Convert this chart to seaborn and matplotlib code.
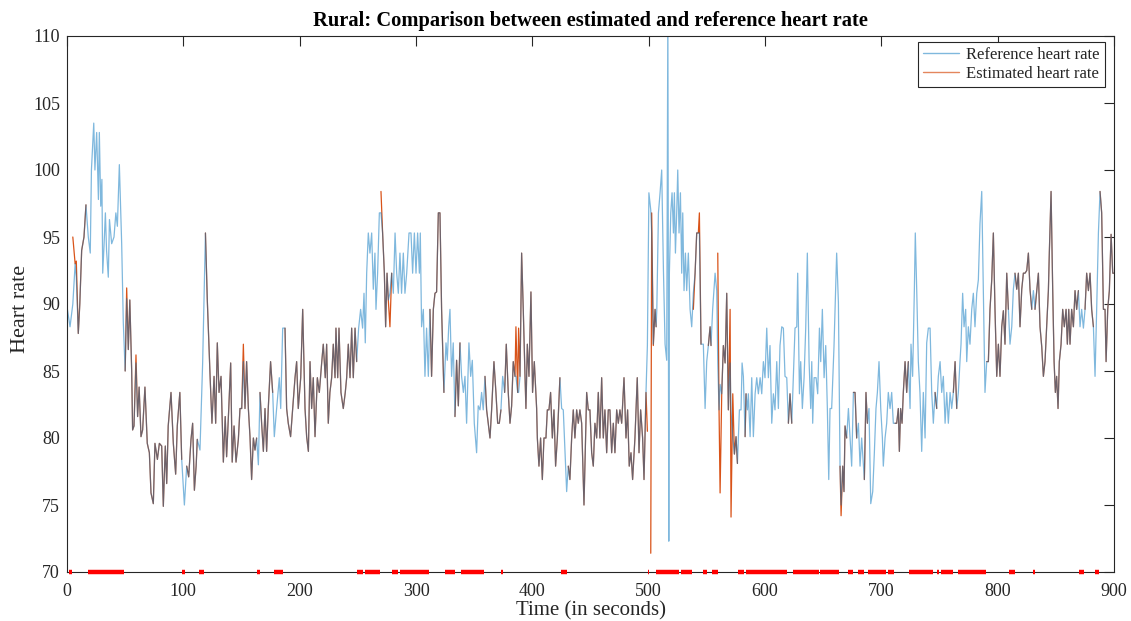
import numpy as np
import pandas as pd
import matplotlib
matplotlib.use("Agg")
import matplotlib.pyplot as plt
from matplotlib.lines import Line2D
import seaborn as sns

# ---------------- data ----------------
ref_t = [0, 2.6, 5, 7, 8, 9.7, 11, 12.6, 14.6, 16.3, 18.3, 20, 21, 23, 24, 25.5, 27, 27.8, 29, 30,
         30.7, 31.8, 33, 34, 35.5, 36.5, 38.4, 40.4, 42, 43.3, 45, 47, 48.4, 50, 51.3, 52.7, 54, 55.6,
         56.4, 57.6, 59.3, 60.7, 62, 63.6, 65, 67, 69, 70.8, 72.2, 74.2, 75.6, 77.7, 79.4, 81.4, 82.8,
         84.5, 85.7, 87, 89.4, 91.4, 93.4, 94.8, 97, 98.6, 100.9, 102.9, 104.6, 106.6, 108, 109.5, 111,
         112, 114.3, 116.6, 119, 120.6, 123, 124.6, 126.4, 127.8, 129.2, 130.7, 132.4, 134.4, 136,
         137.2, 139, 140.7, 142, 143.6, 145.3, 147.3,
         148.7, 150.2, 151.6, 153, 154.4, 155.9, 157.3, 158.7, 160.2, 161.6, 163, 164.5, 165.9, 167.3,
         168.8, 170.2, 171.6, 173, 175, 176.8, 178.2, 180.2, 182.5, 183.7, 185.4, 187.4, 188.8, 190.2,
         192.2, 194, 196, 197.4, 198.8, 200.9, 202.6, 204.6, 206, 207.5, 208.9, 210.3, 211.7, 213.2,
         215.2, 216.9, 219, 220.3, 222, 223.2, 224.6, 226, 227.5, 228.9, 230.4, 231.2, 232.7, 233.8,
         235.5, 237.5, 239.2, 240.4, 241.8, 243.3, 244.7, 246.1, 247.6, 249, 250.7, 252.4, 254.1,
         255.3, 256.4, 257.6, 259, 260.4, 261.9, 263.3, 264.7, 265.6, 267, 268.5, 269.9, 271.3, 272.8,
         273.9, 275.1, 276.2, 277.6, 279.1, 280.5, 282, 283.4, 284.8, 286.2, 287.6, 289.1, 290.5, 292,
         294, 295.7, 297.1, 298.6, 300, 301.4, 302.9,
         303.7, 304.8, 306.3, 307.7, 309.1, 310.6, 312, 313.4, 314.9, 316.3, 317.7, 319.2, 320.6, 322,
         324, 325.8, 326.9, 328.1, 329.2, 330.6, 332, 333.5, 334.9, 336.4, 337.8, 339.2, 340.7, 342.1,
         343.5, 345.5, 347, 348.4, 350.1, 352.1, 353.5, 355, 356.4, 357.8, 359.3, 360.7, 362.1, 363.6,
         365, 367, 368.7, 370.2, 371.6, 373, 374.5, 376.2, 377.6, 379.3, 380.8, 382.2, 383.6, 385.1,
         385.9, 387.4, 388.2, 389.4, 390.8, 392.2, 393.7, 394.5, 395.7, 397.1, 398.8, 400.2, 401.7,
         403.7, 404.3, 405.7, 407.1, 408.6, 410, 411.7, 412.9, 414.3, 415.7, 417.2, 418.6, 420, 421.5,
         423.7, 425.2, 426.6, 428, 429.5, 430.9, 432.3, 433.8, 435.2, 436.6, 438.1, 439.5, 440.9,
         442.4, 444.4, 446.7, 448.1, 449.5, 451, 452.4, 453.8, 455.3, 456.7, 458.1, 459.6, 461, 462.4,
         463.9, 465.3, 466.7, 468.2, 469.6, 471, 472.5, 473.9, 475.3, 476.8, 478.8, 480.5, 481.9,
         483.3, 484.8, 486.2, 488.2, 490.2, 491.7, 493.1, 494.8, 496, 497.7,
         498.9, 500.2, 501.8, 502.6, 504, 505.5, 506.4, 507, 508.4, 509.8, 511.2, 512.7, 514.1, 515.5,
         516.5, 517.3, 517.8, 519, 520.1, 521.3, 522.1, 523, 524.1, 525, 526.1, 527.3, 528.4, 529.3,
         530.4, 531.6, 532.7, 534.1, 535.6, 537, 538.4, 539.9, 541.3, 542.7, 543.6, 545, 547, 548.5,
         549.9, 551.3, 552.8, 553.6, 555, 557.1, 558.5, 559.4, 560.5, 561.4, 562.8, 564.2, 565.7,
         567.1, 568.5, 570, 570.8, 572.3, 573.7, 575.1, 576.3, 578, 579.4, 580.3, 581.4, 582.9, 583.7,
         584.9, 585.7, 587.2, 588.6, 590, 591.5, 592.9, 594.3, 595.8, 597.2, 598.6, 600, 601.5, 602.9,
         604.3, 605.8, 607.2, 608.6, 610.1, 611.5, 612.9, 614.4, 615.8, 617.2, 618.7, 620.1, 621.5,
         623, 624.4, 625.8, 627.3, 628.1, 629.6, 630.7, 632.1, 633.6, 635, 636.4, 637.9, 639.3, 640.2,
         641, 642.2, 643.9, 645.3, 646.8, 647.9, 649.3, 650.8, 652.2, 653.6, 654.8, 655.9,
         657.3, 659.3, 661.6, 663.1, 664.5, 665.4, 666.8, 667.9, 668.8, 670.2, 671.7, 673.1, 674.5,
         676, 677.4, 678.8, 680.3, 681.7, 683.1, 684.6, 685.4, 686.8, 688, 689.4, 690.9, 692.6, 694,
         695.4, 696.6, 698, 699.5, 700.9, 701.7, 703.2, 704.6, 706, 707.5, 708.9, 710.3, 711.8, 713.2,
         714.6, 715.5, 716.6, 717.8, 718.9, 720.4, 721.8, 723.2, 724.7, 725.5, 726.9, 728.4, 729.2,
         730.4, 731.8, 733.2, 734.7, 736.1, 737.6, 739, 740.4, 741.9, 743.3, 744.7, 746.2, 747.6, 749,
         750.5, 751.9, 753.3, 754.8, 756.2, 757.6, 759.1, 760.5, 761.9, 763.4, 764.8, 766.2, 767.6,
         768.5, 769.9, 771.1, 772.5, 773.4, 774.8, 776.2, 777.7, 779.1, 780.5, 782, 783.4, 784.8,
         786.3, 787.7, 789.1, 790.6, 792, 793.4, 794.9, 796.3, 797.7, 799.2, 800.6, 802, 803.5, 804.9,
         806.3, 807.8, 809.2, 810.6, 812.1, 813.5, 814.9, 816.4, 817.8, 819.2, 820.7, 822.1, 823.5,
         825, 826.4, 827.8, 829.3, 830.7, 832.1, 833.6, 835, 836.4, 837.9, 839.3, 840.7, 842.1, 843.6,
         844.4, 845.9, 847.3, 848.5, 849.6, 850.7, 851.9, 853, 854.5, 855.9, 857.3, 858.8, 859.9,
         861.1, 862.2, 863.6, 865.1, 866.5, 867.9, 869.4, 870.8, 872.2, 873.7, 875.1, 876.5, 878,
         879.4, 880.8, 882.3, 883.7, 885.1, 886.6, 888, 889.4, 890.9, 892.3, 893.2, 894.6, 896, 897.5,
         898.9, 900]

ref_v = [89.8, 88.3, 90, 93, 92, 87.8, 90, 94, 95, 97.4, 95, 93.8, 100, 103.5, 100, 102.8, 97.8, 102.8, 97.3, 99.3,
         92.3, 94.3, 96.8, 94, 92, 96.3, 94.5, 95, 96.8, 95.8, 100.4, 94.5, 88.6, 85, 90.4, 86.6, 90.3, 85,
         80.6, 80.9, 85.6, 81.6, 83.8, 80.1, 80.6, 83.8, 79.6, 78.9, 75.9, 75.1, 79.6, 78.4, 79.6, 79.4, 74.9,
         79.4, 76.6, 80.9, 83.4, 79.6, 77.3, 80.9, 83.4, 78.4, 75, 77.9, 77.1, 79.9, 81.1, 76.1, 77.9,
         79.9, 79.1, 85.6, 95.3, 90.3, 84.6, 81.1, 84.6, 81.1, 87.1, 83.4, 84.6, 78.2, 81.6,
         78.6, 82.1, 85.6, 78.2, 80.9, 78.2, 79.9,
         82.2, 82.2, 85.7, 82.2, 85.7, 82.2, 80.1, 76.9, 80, 79.1, 80, 78, 83.4, 81.1,
         79, 82.2, 79, 82.2, 85.7, 83.4, 80.1, 82.2, 84.5, 82.2, 88.2, 88.2, 82.2, 81.1,
         80.1, 82.2, 84.5, 85.7, 82.2, 84.5, 89.6, 82.2, 80.1, 79, 85.7, 82.2, 84.5, 80.1,
         84.5, 83.4, 85.7, 87, 84.5, 87, 81.1, 83.4, 84.5, 87, 84.5, 88.2, 84.5, 88.2,
         83.4, 82.2, 83.4, 84.5, 87, 84.5, 88.2, 84.5, 88.2, 85.7, 88.2, 89.6, 88.2,
         90.8, 87.1, 92.3, 95.3, 93.8, 95.3, 91.1, 93.8, 89.6, 92.3, 96.8, 96.8, 95.3, 92.3,
         88.3, 92.3, 90.3, 90.8, 92.3, 90.8, 95.3, 92.3, 90.8, 93.8, 90.8, 93.8, 90.8, 92.3,
         95.3, 95.3, 92.3, 95.3, 92.3, 95.3, 92.3,
         95.3, 88.3, 89.6, 84.6, 88.2, 84.6, 89.6, 84.6, 89.6, 90.8, 90.9, 96.8, 96.8, 89.6,
         83.4, 87.1, 85.8, 88.3, 89.6, 84.6, 87.1, 81.6, 85.8, 82.4, 87.1, 84.6, 83.4, 84.6,
         81.1, 87.1, 84.6, 85.8, 81.1, 78.9, 82.4, 82.1, 83.4, 82.1, 84.6, 82.1, 81.1, 80,
         82.1, 85.7, 83.4, 81.1, 81.1, 82.1, 84.6, 83.4, 87, 83.4, 81.1, 82.4, 85.7, 84.6,
         84.6, 83.4, 83.4, 84.6, 93.8, 89.6, 84.6, 82.2, 87, 84.6, 90.9, 83.4, 85.7,
         82.2, 80, 77.9, 80, 76.9, 80, 80, 82.1, 82.1, 83.4, 80, 82.1, 77.9, 80,
         84.5, 82.2, 82.1, 79.1, 76, 77.9, 76.9, 80, 82.1, 80, 82.1, 81.1, 82.1,
         81.1, 75, 83.4, 82.1, 82.1, 78.9, 77.9, 81.1, 80, 83.4, 80, 84.5, 80, 82.1,
         78.9, 82.1, 82.1, 78.9, 81.1, 78.9, 82.1, 81.1, 82.1, 81.1, 84.5, 80, 82.1,
         77.9, 78.9, 76.9, 80, 84.5, 78.9, 82.1, 80, 76.9, 83.4,
         86.9, 98.3, 97, 95.3, 87, 89.6, 88.3, 89.6, 96.8, 98.3, 100, 92.5, 87, 85.8,
         112, 72.3, 92.3, 96.8, 98.3, 95.3, 98.3, 93.8, 96.8, 100, 95.3, 98.3, 92.3, 96.8,
         91, 93.8, 91, 93.8, 89.6, 88.3, 90.8, 92.3, 95.3, 95.3, 95.3, 87, 87, 82.2,
         85.7, 86.9, 88.3, 86.9, 89.6, 92.3, 91, 85.6, 82.1, 84, 83.3, 86.9, 85.6,
         90.8, 82.1, 85.6, 82, 80, 78.8, 80.1, 78.1, 82.1, 82.1, 85.6, 84.6, 80.1, 83.3,
         82.1, 83.3, 80.1, 84.5, 80.1, 83.3, 84.5, 83.3, 84.5, 83.3, 85.7, 84.5, 88.2, 84.5,
         86.9, 81.1, 83.3, 82.1, 85.7, 82.2, 86.9, 88.3, 88.2, 84.6, 84.5, 81.1, 83.3,
         81.1, 84.6, 88.2, 88.3, 92.3, 83.3, 85.7, 82.2, 84.5, 88.2, 93.8, 85.7, 82.2, 85.7,
         81.1, 84.5, 84.5, 83.3, 88.2, 85.7, 89.6, 84.5, 86.9, 82.2, 76.9, 82.2,
         82.2, 86.8, 93.8, 90.1, 77.9, 75, 77.9, 76, 80.9, 80, 82.2, 80, 77.9,
         83.4, 83.4, 80, 81.1, 77.9, 80, 77.9, 76.9, 83.4, 81.1, 82.2, 75.1, 76, 78.9,
         82.2, 83.4, 85.7, 82.2, 80, 77.9, 80, 81.1, 83.4, 82.2, 83.4, 81.1, 81.1, 81.1,
         82.2, 79, 82.2, 81.1, 83.4, 85.7, 83.4, 85.7, 82.2, 87, 84.6, 91.1, 95.3,
         91.1, 85.7, 83.4, 79, 83.4, 80, 87.1, 88.2, 88.2, 83.4, 81.1, 83.4, 82.2, 84.6,
         85.7, 83.4, 84.6, 81.1, 83.4, 81.1, 83.4, 82.2, 83.4, 85.7, 82.2, 83.4, 85.7,
         87, 90.8, 88.3, 89.6, 85.7, 88.3, 87, 89.6, 90.8, 88.3, 90.8, 91.8, 96,
         98.4, 90.8, 83.4, 85.7, 85.7, 89.6, 91.8, 95.3, 89.6, 84.6, 87, 84.6, 88.3, 89.5,
         87, 92.3, 89.6, 87, 88.3, 91.1, 92.3, 91.1, 92.3, 88.3, 91.1, 92.3, 92.3,
         92.5, 93.8, 91.1, 89.6, 91, 89.6, 91, 92.3, 88.3, 86.8, 84.6, 85.7, 88.3, 91,
         93.8, 98.4, 91.1, 85.7, 83.4, 84.6, 82.2, 85.7, 87, 89.6, 88.3, 89.6, 87,
         89.6, 87, 89.6, 88.3, 91, 89.6, 91, 88.3, 89.6, 88.2, 89.6, 92.3, 91,
         92.3, 89.6, 88.3, 84.6, 89.6, 95.3, 98.4, 96.8, 89.6, 89.6, 85.7, 89.6, 91, 95.2,
         92.3, 92.3]

# times where the estimate differs from the reference
est_diff_t = [5, 8, 51.3, 59.3, 151.6, 269.9, 277.6, 385.9, 388.2, 498.9, 501.8, 502.6, 504,
              538.4, 543.6, 559.4, 561.4, 570, 570.8, 572.3, 665.4]
est_diff_v = [95, 93.2, 91.2, 86.2, 87, 98.4, 88.3, 88.3, 88.2, 80.5, 71.4, 96.8, 86.9,
              89.6, 96.8, 93.8, 75.9, 89.6, 74.1, 83.3, 74.2]

# intervals (seconds) where no estimate exists (red marks on the time axis)
gap_start = [1.7, 18.3, 98.7, 113.2, 163.4, 178.2, 249.6, 256.3, 279.5, 286.2, 324.5, 338.5,
             373.3, 424.7, 499.6, 506.6, 527.6, 546.4, 554.8, 576.4, 583.9, 624.4, 647.4,
             671.4, 679.8, 688.2, 705.9, 723.9, 747.8, 751.7, 766.1, 809.6, 830.5, 870.1, 883.6]
gap_end = [4.6, 48.8, 101.6, 117.6, 165.5, 185.8, 254.3, 269.4, 284.8, 311.5, 333.2, 358.5,
           374.7, 429.6, 500.4, 526.4, 537.5, 550.3, 559.3, 581.8, 618.7, 646.2, 663.3,
           675.3, 684.9, 703.8, 710.7, 744.8, 749.3, 761.6, 789.8, 814.7, 832.0, 874.6, 887.5]

title = "Rural: Comparison between estimated and reference heart rate"
x_label = "Time (in seconds)"
y_label = "Heart rate"
labels = ["Reference heart rate", "Estimated heart rate"]

# ---------------- build the estimate series ----------------
t_arr = np.array(ref_t, dtype=float)
est = np.array(ref_v, dtype=float)
for tt, vv in zip(est_diff_t, est_diff_v):
    est[np.argmin(np.abs(t_arr - tt))] = vv
in_gap = np.zeros(len(t_arr), dtype=bool)
for a, b in zip(gap_start, gap_end):
    in_gap |= (t_arr >= a) & (t_arr <= b)
seg = np.cumsum(in_gap.astype(int))
est_df = pd.DataFrame({"t": t_arr, "v": est, "seg": seg})[~in_gap]
ref_df = pd.DataFrame({"t": t_arr, "v": ref_v, "u": 0})

# ---------------- draw ----------------
sns.set_style("white")
plt.rcParams["font.family"] = ["Liberation Serif", "DejaVu Serif"]

blue = (0.0, 0.447, 0.741)
orange = (0.85, 0.325, 0.098)

fig = plt.figure(figsize=(11.31, 6.21), dpi=100)
ax = fig.add_axes([67 / 1131, 49 / 621, 1047 / 1131, 536 / 621])

sns.lineplot(data=est_df, x="t", y="v", units="seg", estimator=None, sort=False,
             color=orange, lw=0.9, ax=ax, legend=False)
sns.lineplot(data=ref_df, x="t", y="v", units="u", estimator=None, sort=False,
             color=blue, alpha=0.5, lw=0.9, ax=ax, legend=False)

for a, b in zip(gap_start, gap_end):
    ax.plot([a, b], [70, 70], color="red", lw=3.2, solid_capstyle="butt",
            clip_on=False, zorder=5)

ax.set_xlim(0, 900)
ax.set_ylim(70, 110)
ax.set_xticks(np.arange(0, 901, 100))
ax.set_yticks(np.arange(70, 111, 5))
ax.tick_params(direction="in", length=7.5, width=0.8, top=True, right=True,
               labelsize=13, colors="#262626")
ax.tick_params(axis="x", pad=8)
ax.tick_params(axis="y", pad=5)
for sp in ax.spines.values():
    sp.set_visible(True)
    sp.set_linewidth(0.8)
    sp.set_color("#262626")
ax.set_xlabel(x_label, fontsize=15, color="#262626", labelpad=1)
ax.set_ylabel(y_label, fontsize=16, color="#262626")
ax.yaxis.set_label_coords(-0.035, 0.49)
ax.set_title(title, fontsize=14.8, fontweight="bold", color="black", pad=7)

handles = [Line2D([], [], color=blue, alpha=0.5, lw=1.0),
           Line2D([], [], color=orange, alpha=0.7, lw=1.0)]
leg = ax.legend(handles, labels, loc="upper right", fontsize=12, frameon=True,
                fancybox=False, edgecolor="#262626", framealpha=1, borderpad=0.3,
                handlelength=2.2, handletextpad=0.4, labelspacing=0.2,
                bbox_to_anchor=(0.991, 0.989), borderaxespad=0)
leg.get_frame().set_linewidth(0.8)

fig.savefig("out.png", dpi=100)
